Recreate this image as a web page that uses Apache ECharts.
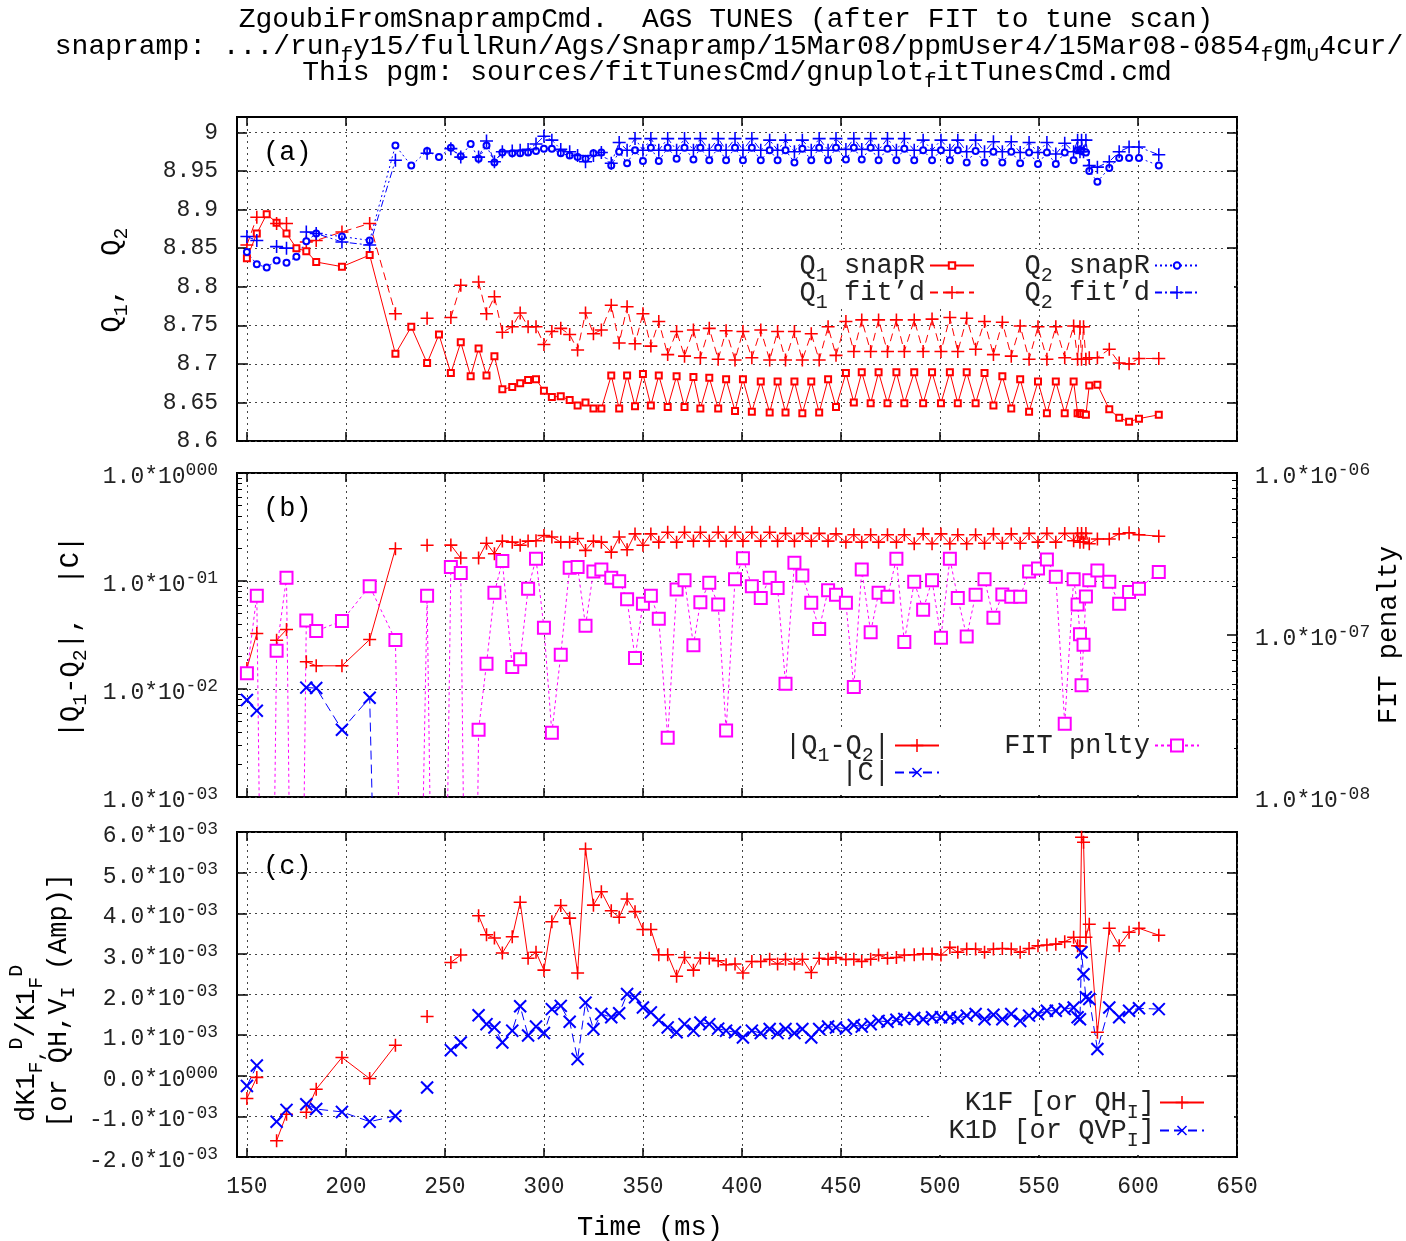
<!DOCTYPE html>
<html>
<head>
<meta charset="utf-8">
<title>AGS tunes after FIT</title>
<script src="https://cdn.jsdelivr.net/npm/echarts@6/dist/echarts.min.js"></script>
<style>
  html, body { margin: 0; padding: 0; background: #fff; }
  #chart { width: 1406px; height: 1241px; }
</style>
</head>
<body>
<div id="chart"></div>
<script>
// time of each snapramp sample (ms)
const t = [
  150, 155, 160, 165, 170, 175, 180, 185, 198, 212,
  225, 233, 241, 247, 253, 258, 263, 267, 271, 275,
  279, 284, 288, 292, 296, 300, 304, 308.5, 313, 317,
  321, 325, 329, 334, 338, 342, 346, 350, 354, 358,
  362.5, 367, 371, 375.5, 379, 383.5, 388, 392, 396.5, 400.5,
  405, 409.5, 414, 418, 422, 426.5, 430.5, 435, 439, 443.5,
  447.5, 452.5, 456.5, 460.5, 465, 469, 473.5, 478, 482, 487,
  491.5, 496, 500.5, 505, 509, 513.5, 518, 522.5, 527, 531.5,
  536, 540.5, 545, 549.5, 554, 558.5, 563, 567.5, 569.5, 570.7,
  571.5, 572.5, 573.7, 575.4, 579.5, 585.5, 590.5, 595.5, 600.5, 610.5
];

// (a) tunes
const q1Snap = [
  8.837, 8.869, 8.894, 8.883, 8.869, 8.850, 8.846, 8.832, 8.826, 8.841,
  8.713, 8.748, 8.701, 8.738, 8.688, 8.728, 8.684, 8.720, 8.685, 8.710,
  8.667, 8.670, 8.675, 8.679, 8.680, 8.665, 8.657, 8.658, 8.653, 8.646,
  8.650, 8.642, 8.642, 8.685, 8.642, 8.685, 8.645, 8.687, 8.646, 8.685,
  8.644, 8.684, 8.644, 8.683, 8.642, 8.682, 8.642, 8.680, 8.639, 8.680,
  8.638, 8.677, 8.637, 8.677, 8.637, 8.677, 8.636, 8.677, 8.637, 8.680,
  8.644, 8.688, 8.650, 8.689, 8.649, 8.689, 8.649, 8.689, 8.649, 8.689,
  8.649, 8.689, 8.649, 8.689, 8.649, 8.689, 8.649, 8.688, 8.646, 8.684,
  8.642, 8.680, 8.638, 8.677, 8.636, 8.677, 8.636, 8.677, 8.636, 8.636,
  8.635, 8.635, 8.634, 8.672, 8.673, 8.641, 8.630, 8.625, 8.629, 8.634
];
const q1Fit = [
  8.854, 8.890, null, 8.882, 8.882, null, 8.858, 8.860, 8.871, 8.882,
  8.765, null, 8.759, null, 8.760, 8.802, null, 8.806, 8.765, 8.787,
  8.741, 8.748, 8.766, 8.748, 8.748, 8.725, 8.742, 8.746, 8.738, 8.718,
  8.766, 8.739, 8.744, 8.776, 8.727, 8.774, 8.726, 8.765, 8.723, 8.755,
  8.712, 8.742, 8.710, 8.744, 8.708, 8.746, 8.706, 8.743, 8.705, 8.742,
  8.708, 8.744, 8.705, 8.742, 8.705, 8.742, 8.705, 8.739, 8.705, 8.748,
  8.711, 8.755, 8.716, 8.757, 8.716, 8.757, 8.716, 8.757, 8.716, 8.757,
  8.716, 8.758, 8.716, 8.760, 8.716, 8.759, 8.719, 8.755, 8.712, 8.754,
  8.710, 8.749, 8.706, 8.748, 8.706, 8.748, 8.708, 8.749, 8.706, 8.748,
  8.706, 8.748, 8.706, 8.708, 8.708, 8.719, 8.701, 8.700, 8.707, 8.707
];
const q2Snap = [
  8.845, 8.829, 8.825, 8.834, 8.831, 8.839, 8.859, 8.869, 8.865, 8.860,
  8.983, 8.957, 8.976, 8.968, 8.980, 8.969, 8.985, 8.966, 8.983, 8.961,
  8.974, 8.973, 8.973, 8.974, 8.976, 8.979, 8.979, 8.973, 8.970, 8.968,
  8.966, 8.973, 8.974, 8.957, 8.975, 8.960, 8.977, 8.963, 8.980, 8.963,
  8.980, 8.966, 8.980, 8.965, 8.980, 8.964, 8.980, 8.964, 8.980, 8.964,
  8.980, 8.964, 8.977, 8.964, 8.977, 8.961, 8.979, 8.964, 8.980, 8.964,
  8.980, 8.965, 8.980, 8.965, 8.980, 8.964, 8.979, 8.964, 8.979, 8.964,
  8.977, 8.964, 8.977, 8.964, 8.977, 8.961, 8.976, 8.961, 8.975, 8.961,
  8.975, 8.960, 8.974, 8.959, 8.974, 8.959, 8.974, 8.964, 8.977, 8.977,
  8.976, 8.975, 8.974, 8.950, 8.936, 8.954, 8.967, 8.967, 8.967, 8.957
];
const q2Fit = [
  8.865, 8.860, null, 8.852, 8.850, null, 8.871, 8.869, 8.858, 8.854,
  8.964, null, 8.973, null, 8.979, 8.968, null, 8.968, 8.989, 8.962,
  8.975, 8.976, 8.977, 8.978, 8.985, 8.995, 8.990, 8.978, 8.975, 8.970,
  8.962, 8.970, 8.974, 8.960, 8.987, 8.977, 8.992, 8.977, 8.992, 8.977,
  8.992, 8.977, 8.992, 8.977, 8.992, 8.977, 8.992, 8.977, 8.992, 8.977,
  8.992, 8.977, 8.990, 8.977, 8.990, 8.975, 8.990, 8.977, 8.992, 8.977,
  8.992, 8.978, 8.992, 8.978, 8.992, 8.977, 8.992, 8.977, 8.992, 8.977,
  8.990, 8.977, 8.990, 8.977, 8.990, 8.975, 8.990, 8.975, 8.988, 8.975,
  8.988, 8.974, 8.987, 8.974, 8.987, 8.972, 8.986, 8.975, 8.990, 8.975,
  8.990, 8.975, 8.990, 8.957, 8.955, 8.962, 8.975, 8.981, 8.981, 8.971
];

// (b) |Q1-Q2|, |C| (left log axis) and FIT penalty (right log axis); 0 = below the frame
const dq = [
  0.0155, 0.0326, null, 0.0283, 0.0355, null, 0.0179, 0.0164, 0.0164, 0.0287,
  0.199, null, 0.214, null, 0.215, 0.163, null, 0.163, 0.224, 0.179,
  0.234, 0.229, 0.214, 0.234, 0.236, 0.264, 0.256, 0.229, 0.229, 0.247,
  0.192, 0.234, 0.229, 0.185, 0.256, 0.195, 0.273, 0.214, 0.273, 0.229,
  0.283, 0.229, 0.283, 0.234, 0.283, 0.234, 0.283, 0.234, 0.283, 0.234,
  0.283, 0.234, 0.283, 0.234, 0.276, 0.234, 0.276, 0.234, 0.276, 0.234,
  0.273, 0.229, 0.268, 0.229, 0.268, 0.229, 0.268, 0.229, 0.268, 0.221,
  0.273, 0.221, 0.273, 0.221, 0.268, 0.221, 0.268, 0.224, 0.273, 0.224,
  0.273, 0.224, 0.276, 0.229, 0.276, 0.229, 0.276, 0.236, 0.276, 0.229,
  0.276, 0.229, 0.276, 0.221, 0.245, 0.245, 0.273, 0.280, 0.268, 0.260
];
const cAbs = [
  0.0079, 0.0063, null, null, null, null, 0.0103, 0.0102, 0.0042, 0.0083,
  0, null, 0, null, 0, 0, null, 0, 0, 0,
  0, 0, 0, 0, 0, 0, 0, 0, 0, 0,
  0, 0, 0, 0, 0, 0, 0, 0, 0, 0,
  0, 0, 0, 0, 0, 0, 0, 0, 0, 0,
  0, 0, 0, 0, 0, 0, 0, 0, 0, 0,
  0, 0, 0, 0, 0, 0, 0, 0, 0, 0,
  0, 0, 0, 0, 0, 0, 0, 0, 0, 0,
  0, 0, 0, 0, 0, 0, 0, 0, 0, 0,
  0, 0, 0, 0, 0, 0, 0, 0, 0, 0
];
const pen = [
  5.8e-8, 1.75e-7, 0, 8.0e-8, 2.26e-7, 0, 1.23e-7, 1.06e-7, 1.22e-7, 2.0e-7,
  9.3e-8, 0, 1.75e-7, 0, 2.63e-7, 2.41e-7, 0, 2.6e-8, 6.65e-8, 1.82e-7,
  2.86e-7, 6.34e-8, 7.08e-8, 1.93e-7, 2.96e-7, 1.11e-7, 2.49e-8, 7.55e-8, 2.6e-7, 2.63e-7,
  1.14e-7, 2.47e-7, 2.54e-7, 2.26e-7, 2.15e-7, 1.66e-7, 7.2e-8, 1.56e-7, 1.75e-7, 1.26e-7,
  2.32e-8, 1.91e-7, 2.18e-7, 8.63e-8, 1.59e-7, 2.1e-7, 1.54e-7, 2.57e-8, 2.21e-7, 2.98e-7,
  2.0e-7, 1.69e-7, 2.26e-7, 1.95e-7, 5.0e-8, 2.79e-7, 2.33e-7, 1.58e-7, 1.09e-7, 1.89e-7,
  1.77e-7, 1.58e-7, 4.77e-8, 2.54e-7, 1.04e-7, 1.82e-7, 1.72e-7, 2.96e-7, 9.06e-8, 2.13e-7,
  1.43e-7, 2.18e-7, 9.6e-8, 2.96e-7, 1.69e-7, 9.8e-8, 1.77e-7, 2.21e-7, 1.28e-7, 1.78e-7,
  1.72e-7, 1.72e-7, 2.47e-7, 2.57e-7, 2.92e-7, 2.29e-7, 2.83e-8, 2.21e-7, 1.54e-7, 1.01e-7,
  4.9e-8, 8.7e-8, 1.73e-7, 2.18e-7, 2.5e-7, 2.13e-7, 1.56e-7, 1.84e-7, 1.93e-7, 2.45e-7
];

// (c) dK1/K1, in units of 1e-3
const k1f = [
  -0.56, -0.04, null, -1.6, -0.95, null, -0.9, -0.33, 0.45, -0.07,
  0.75, null, 1.46, null, 2.79, 2.97, null, 3.94, 3.47, 3.39,
  3.02, 3.42, 4.27, 2.89, 3.04, 2.6, 3.79, 4.19, 3.88, 2.53,
  5.58, 4.2, 4.53, 4.06, 3.9, 4.35, 4.04, 3.6, 3.6, 2.98,
  2.98, 2.45, 2.91, 2.6, 2.9, 2.89, 2.83, 2.73, 2.75, 2.53,
  2.81, 2.81, 2.87, 2.75, 2.87, 2.75, 2.87, 2.54, 2.89, 2.87,
  2.91, 2.86, 2.87, 2.81, 2.87, 2.97, 2.89, 2.91, 2.97, 2.98,
  3.0, 3.0, 2.97, 3.16, 3.04, 3.12, 3.12, 3.04, 3.12, 3.13,
  3.12, 3.04, 3.13, 3.2, 3.22, 3.24, 3.3, 3.41, 3.2, 3.19,
  5.87, 5.75, 3.41, 3.73, 1.07, 3.63, 3.2, 3.53, 3.63, 3.46
];
const k1d = [
  -0.25, 0.25, null, -1.13, -0.84, null, -0.7, -0.82, -0.89, -1.13,
  -0.99, null, -0.29, null, 0.63, 0.82, null, 1.49, 1.27, 1.19,
  0.82, 1.11, 1.71, 0.99, 1.21, 1.05, 1.64, 1.72, 1.33, 0.41,
  1.8, 1.15, 1.52, 1.44, 1.54, 2.01, 1.93, 1.68, 1.56, 1.37,
  1.19, 1.07, 1.27, 1.11, 1.31, 1.27, 1.16, 1.11, 1.07, 0.94,
  1.11, 1.05, 1.15, 1.05, 1.15, 1.05, 1.15, 0.94, 1.15, 1.21,
  1.19, 1.16, 1.25, 1.21, 1.27, 1.35, 1.33, 1.38, 1.40, 1.42,
  1.39, 1.44, 1.44, 1.44, 1.41, 1.48, 1.52, 1.39, 1.5, 1.39,
  1.52, 1.35, 1.48, 1.52, 1.6, 1.6, 1.64, 1.68, 1.44, 1.39,
  3.04, 2.5, 1.93, 1.89, 0.66, 1.68, 1.44, 1.6, 1.66, 1.64
];

const xTicks = [150, 200, 250, 300, 350, 400, 450, 500, 550, 600, 650];
const qTicks = [8.6, 8.65, 8.7, 8.75, 8.8, 8.85, 8.9, 8.95, 9.0];

const MONO = "'Liberation Mono', 'DejaVu Sans Mono', monospace";
const INK = '#222';
const RED = '#ff0000', BLUE = '#0000ff', MAGENTA = '#ff00ff';
const GRIDLINE = { color: '#444', width: 1, type: [2, 4] };
const TICK = { color: '#000', width: 1.5 };
const PLUS = 'path://M0,4.4H4.4V0H5.6V4.4H10V5.6H5.6V10H4.4V5.6H0Z';
// a zero on a log axis: gnuplot drops the line out through the frame
const LOG_FLOOR = 1e-12;

const textRich = {
  t: { fontFamily: MONO, fontSize: 27, lineHeight: 40, color: INK },
  sub: { fontFamily: MONO, fontSize: 20, lineHeight: 20, color: INK, verticalAlign: 'bottom' },
  sup: { fontFamily: MONO, fontSize: 20, lineHeight: 20, color: INK, verticalAlign: 'top' }
};
const titleRich = {
  t: { fontFamily: MONO, fontSize: 28, lineHeight: 38, color: INK },
  sub: { fontFamily: MONO, fontSize: 21, lineHeight: 21, color: INK, verticalAlign: 'bottom' }
};
const expRich = {
  m: { fontFamily: MONO, fontSize: 23, lineHeight: 40, padding: [8, 0, 0, 0], color: INK },
  e: { fontFamily: MONO, fontSize: 18, lineHeight: 18, padding: [8, 0, 0, 0], color: INK, verticalAlign: 'top' }
};

const keyText = {
  'Q1 snapR': '{t|Q}{sub|1}{t| snapR}',
  "Q1 fit'd": '{t|Q}{sub|1}{t| fit’d}',
  'Q2 snapR': '{t|Q}{sub|2}{t| snapR}',
  "Q2 fit'd": '{t|Q}{sub|2}{t| fit’d}',
  '|Q1-Q2|': '{t||Q}{sub|1}{t|-Q}{sub|2}{t||}',
  '|C|': '{t||C|}',
  'FIT pnlty': '{t|FIT pnlty}',
  'K1F [or QH_I]': '{t|K1F [or QH}{sub|I}{t|]}',
  'K1D [or QVP_I]': '{t|K1D [or QVP}{sub|I}{t|]}'
};

function expStr(e) {
  return e === 0 ? '000' : (e < 0 ? '-' : '') + String(Math.abs(e)).padStart(2, '0');
}
function powLabel(v) {
  return '{m|1.0*10}{e|' + expStr(Math.round(Math.log10(v))) + '}';
}
function milliLabel(v) {
  return '{m|' + v.toFixed(1) + '*10}{e|' + (v === 0 ? '000' : '-03') + '}';
}
function minorLogTicks(lo, hi) {
  const out = [];
  for (let k = lo; k < hi; k++) {
    for (let m = 2; m <= 9; m++) out.push(k + Math.log10(m));
  }
  return out;
}

function pts(vals) {
  return t.map((x, i) => [x, vals[i]]);
}
function logPts(vals) {
  return t.map((x, i) => [x, vals[i] === 0 ? LOG_FLOOR : vals[i]]);
}

function line(name, xi, yi, data, color, dash, symbol, size, rotate) {
  const isPath = symbol.indexOf('path://') === 0;
  return {
    name: name, type: 'line', xAxisIndex: xi, yAxisIndex: yi, data: data,
    symbol: symbol, symbolSize: size, symbolRotate: rotate || 0,
    lineStyle: { color: color, width: 1, type: dash },
    itemStyle: { color: color, borderColor: color, borderWidth: isPath ? 0 : 1 },
    emphasis: { disabled: true },
    connectNulls: false, animation: false, silent: true
  };
}

function timeAxis(grid, pos, labels) {
  return {
    type: 'value', gridIndex: grid, position: pos, min: 145, max: 650,
    axisLine: { show: false, onZero: false },
    axisTick: { inside: true, length: 9, customValues: xTicks, lineStyle: TICK },
    axisLabel: { show: labels, customValues: xTicks, margin: 18, fontFamily: MONO, fontSize: 23, color: INK },
    splitLine: { show: pos === 'bottom', lineStyle: GRIDLINE }
  };
}

function key(name, right, top, iconH) {
  return {
    data: [name], right: right, top: top, orient: 'vertical', align: 'right',
    padding: 0, itemWidth: 44, itemHeight: iconH, selectedMode: false,
    textStyle: { fontFamily: MONO, fontSize: 27, color: INK, rich: textRich },
    formatter: n => keyText[n]
  };
}

function gtext(x, y, text, rich, opts) {
  return Object.assign({
    type: 'text', x: x, y: y, silent: true,
    style: Object.assign({ text: text, rich: rich, align: 'center', verticalAlign: 'middle' }, opts && opts.style)
  }, opts && opts.el);
}
const UP = { el: { rotation: Math.PI / 2 } };

const chart = echarts.init(document.getElementById('chart'), null, { renderer: 'canvas' });

chart.setOption({
  backgroundColor: '#fff',
  animation: false,
  grid: [
    { left: 237, top: 117, width: 1000, height: 324, show: true, borderColor: '#000', borderWidth: 2, backgroundColor: 'transparent' },
    { left: 237, top: 473, width: 1000, height: 324, show: true, borderColor: '#000', borderWidth: 2, backgroundColor: 'transparent' },
    { left: 237, top: 832, width: 1000, height: 325, show: true, borderColor: '#000', borderWidth: 2, backgroundColor: 'transparent' }
  ],
  xAxis: [
    timeAxis(0, 'bottom', false),
    timeAxis(1, 'bottom', false),
    timeAxis(2, 'bottom', true),
    timeAxis(0, 'top', false),
    timeAxis(1, 'top', false),
    timeAxis(2, 'top', false)
  ],
  yAxis: [
    { // 0: tunes
      type: 'value', gridIndex: 0, position: 'left', min: 8.6, max: 9.02,
      axisLine: { show: false, onZero: false },
      axisTick: { inside: true, length: 10, customValues: qTicks, lineStyle: TICK },
      axisLabel: { customValues: qTicks, margin: 19, fontFamily: MONO, fontSize: 23, color: INK,
        formatter: v => String(+v.toFixed(2)) },
      splitLine: { show: true, lineStyle: GRIDLINE }
    },
    { // 1: tunes mirror
      type: 'value', gridIndex: 0, position: 'right', min: 8.6, max: 9.02,
      axisLine: { show: false, onZero: false },
      axisTick: { inside: true, length: 10, customValues: qTicks, lineStyle: TICK },
      axisLabel: { show: false }, splitLine: { show: false }
    },
    { // 2: |Q1-Q2|, |C|
      type: 'log', logBase: 10, gridIndex: 1, position: 'left', min: 1e-3, max: 1,
      axisLine: { show: false, onZero: false },
      axisTick: { inside: true, length: 10, lineStyle: TICK },
      axisLabel: { margin: 19, formatter: powLabel, rich: expRich },
      splitLine: { show: true, lineStyle: GRIDLINE }
    },
    { // 3: FIT penalty
      type: 'log', logBase: 10, gridIndex: 1, position: 'right', min: 1e-8, max: 1e-6,
      axisLine: { show: false, onZero: false },
      axisTick: { inside: true, length: 10, lineStyle: TICK },
      axisLabel: { margin: 18, formatter: powLabel, rich: expRich },
      splitLine: { show: false }
    },
    { // 4: minor ticks for the left log axis (exponent space)
      type: 'value', gridIndex: 1, position: 'left', min: -3, max: 0,
      axisLine: { show: false, onZero: false }, axisLabel: { show: false }, splitLine: { show: false },
      axisTick: { inside: true, length: 5, customValues: minorLogTicks(-3, 0), lineStyle: { color: '#000', width: 1 } }
    },
    { // 5: minor ticks for the right log axis
      type: 'value', gridIndex: 1, position: 'right', min: -8, max: -6,
      axisLine: { show: false, onZero: false }, axisLabel: { show: false }, splitLine: { show: false },
      axisTick: { inside: true, length: 5, customValues: minorLogTicks(-8, -6), lineStyle: { color: '#000', width: 1 } }
    },
    { // 6: dK1/K1 (1e-3)
      type: 'value', gridIndex: 2, position: 'left', min: -2, max: 6, interval: 1,
      axisLine: { show: false, onZero: false },
      axisTick: { inside: true, length: 10, lineStyle: TICK },
      axisLabel: { margin: 19, formatter: milliLabel, rich: expRich },
      splitLine: { show: true, lineStyle: GRIDLINE }
    },
    { // 7: dK1/K1 mirror
      type: 'value', gridIndex: 2, position: 'right', min: -2, max: 6, interval: 1,
      axisLine: { show: false, onZero: false },
      axisTick: { inside: true, length: 10, lineStyle: TICK },
      axisLabel: { show: false }, splitLine: { show: false }
    }
  ],
  legend: [
    key('Q1 snapR', 431, 252, 8),
    key("Q1 fit'd", 431, 279, 16),
    key('Q2 snapR', 206, 252, 8),
    key("Q2 fit'd", 206, 279, 16),
    key('|Q1-Q2|', 466, 732, 16),
    key('|C|', 466, 759, 16),
    key('FIT pnlty', 206, 732, 15),
    key('K1F [or QH_I]', 201, 1089, 16),
    key('K1D [or QVP_I]', 201, 1117, 16)
  ],
  series: [
    line('Q1 snapR', 0, 0, pts(q1Snap), RED, 'solid', 'emptyRect', 6),
    line("Q1 fit'd", 0, 0, pts(q1Fit), RED, [8, 5], PLUS, 13),
    line('Q2 snapR', 0, 0, pts(q2Snap), BLUE, [2, 3], 'emptyCircle', 6),
    line("Q2 fit'd", 0, 0, pts(q2Fit), BLUE, [7, 3, 2, 3], PLUS, 13),
    line('|Q1-Q2|', 1, 2, logPts(dq), RED, 'solid', PLUS, 13),
    line('|C|', 1, 2, logPts(cAbs), BLUE, [9, 5], PLUS, 17, 45),
    line('FIT pnlty', 1, 3, logPts(pen), MAGENTA, [3, 3], 'emptyRect', 12),
    line('K1F [or QH_I]', 2, 6, pts(k1f), RED, 'solid', PLUS, 13),
    line('K1D [or QVP_I]', 2, 6, pts(k1d), BLUE, [9, 5], PLUS, 17, 45)
  ],
  graphic: [
    // keys are opaque in the original: hide the grid behind them
    { type: 'rect', z: 1, silent: true, shape: { x: 762, y: 250, width: 472, height: 57 }, style: { fill: '#fff' } },
    { type: 'rect', z: 1, silent: true, shape: { x: 770, y: 729, width: 464, height: 66 }, style: { fill: '#fff' } },
    { type: 'rect', z: 1, silent: true, shape: { x: 930, y: 1078, width: 304, height: 77 }, style: { fill: '#fff' } },

    gtext(726, 20, '{t|ZgoubiFromSnaprampCmd.  AGS TUNES (after FIT to tune scan)}', titleRich),
    gtext(729, 47, '{t|snapramp: .../run}{sub|f}{t|y15/fullRun/Ags/Snapramp/15Mar08/ppmUser4/15Mar08-0854}{sub|f}{t|gm}{sub|U}{t|4cur/}', titleRich),
    gtext(737, 73, '{t|This pgm: sources/fitTunesCmd/gnuplot}{sub|f}{t|itTunesCmd.cmd}', titleRich),

    gtext(263, 153, '{t|(a)}', textRich, { style: { align: 'left' } }),
    gtext(263, 509, '{t|(b)}', textRich, { style: { align: 'left' } }),
    gtext(263, 867, '{t|(c)}', textRich, { style: { align: 'left' } }),

    gtext(112, 280, '{t|Q}{sub|1}{t|,  Q}{sub|2}', textRich, UP),
    gtext(71, 637, '{t||Q}{sub|1}{t|-Q}{sub|2}{t||,  |C|}', textRich, UP),
    gtext(1389, 635, '{t|FIT penalty}', textRich, UP),
    gtext(27, 1122, '{t|dK1}{sub|F,}{sup|D}{t|/K1}{sub|F}{sup|D}', textRich,
      { el: { rotation: Math.PI / 2 }, style: { align: 'left' } }),
    gtext(59, 1128, '{t|[or QH,V}{sub|I}{t| (Amp)]}', textRich,
      { el: { rotation: Math.PI / 2 }, style: { align: 'left' } }),
    gtext(650, 1228, '{t|Time (ms)}', textRich)
  ]
});
</script>
</body>
</html>
